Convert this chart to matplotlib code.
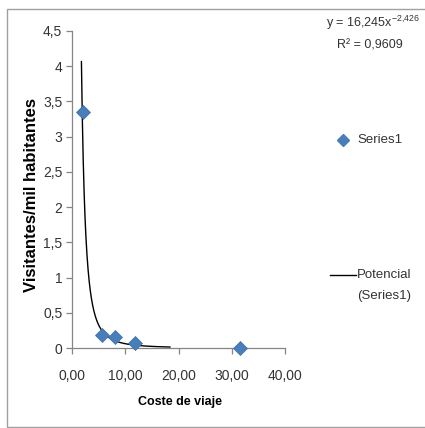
import matplotlib
matplotlib.use("Agg")
import matplotlib.pyplot as plt
import numpy as np
from matplotlib.lines import Line2D
from matplotlib.patches import Rectangle

# Data
coste = [2.0, 5.6, 8.1, 11.8, 31.5]
visitantes = [3.35, 0.18, 0.15, 0.07, 0.0]
fit_a = 16.245
fit_b = -2.426
fit_xmin = 1.77
fit_xmax = 18.4
x_ticks = [0, 10, 20, 30, 40]
x_tick_labels = ["0,00", "10,00", "20,00", "30,00", "40,00"]
y_ticks = [0, 0.5, 1, 1.5, 2, 2.5, 3, 3.5, 4, 4.5]
y_tick_labels = ["0", "0,5", "1", "1,5", "2", "2,5", "3", "3,5", "4", "4,5"]

plt.rcParams['font.family'] = ['Liberation Sans', 'DejaVu Sans']

W, H = 425, 428
fig = plt.figure(figsize=(W/100, H/100), dpi=100)
fig.patch.set_facecolor("white")

# chart border
fig.patches.append(Rectangle((7/W, 1 - 427/H), (W + 10)/W, (427 - 9)/H,
                             transform=fig.transFigure, fill=False,
                             edgecolor="#a0a0a0", linewidth=1.0, zorder=0))

ax = fig.add_axes([72/W, 1 - 348/H, (285 - 72)/W, (348 - 31)/H])
ax.set_facecolor("none")

xs = np.linspace(fit_xmin, fit_xmax, 400)
ax.plot(xs, fit_a * xs ** fit_b, color="black", linewidth=1.0, zorder=2, clip_on=False)
ax.plot(coste, visitantes, linestyle="none", marker="D", markersize=7,
        color="#4a7ebb", markeredgecolor="#3a6ea5", markeredgewidth=0.5,
        zorder=3, clip_on=False)

ax.set_xlim(0, 40)
ax.set_ylim(0, 4.5)
ax.set_xticks(x_ticks)
ax.set_xticklabels(x_tick_labels)
ax.set_yticks(y_ticks)
ax.set_yticklabels(y_tick_labels)
for s in ["top", "right"]:
    ax.spines[s].set_visible(False)
for s in ["left", "bottom"]:
    ax.spines[s].set_color("#868686")
    ax.spines[s].set_linewidth(0.9)
ax.tick_params(axis="both", direction="out", length=4, width=0.9, color="#868686",
               labelsize=10, labelcolor="#333333")
ax.tick_params(axis="x", pad=11)
ax.tick_params(axis="y", pad=3)

fig.text(180/W, 1 - 402/H, "Coste de viaje", fontsize=9, fontweight="bold",
         color="black", ha="center", va="center")
fig.text(32/W, 1 - 195/H, "Visitantes/mil habitantes", fontsize=12,
         fontweight="bold", color="black", ha="center", va="center", rotation=90)

# equation
fig.text(373/W, 1 - 23/H, r"y = 16,245x$^{\mathregular{-2{,}426}}$", fontsize=9,
         color="#333333", ha="center", va="center")
fig.text(370/W, 1 - 46/H, "R² = 0,9609", fontsize=9, color="#333333",
         ha="center", va="center")

# legend
fig.lines.append(Line2D([343/W], [1 - 140/H], marker="D", markersize=6,
                        color="#4a7ebb", linestyle="none", transform=fig.transFigure))
fig.text(357/W, 1 - 140/H, "Series1", fontsize=9.5, color="#333333",
         ha="left", va="center")
fig.lines.append(Line2D([330/W, 356/W], [1 - 275/H, 1 - 275/H], color="black",
                        linewidth=1.0, transform=fig.transFigure))
fig.text(357/W, 1 - 275/H, "Potencial", fontsize=9.5, color="#333333",
         ha="left", va="center")
fig.text(357/W, 1 - 296/H, "(Series1)", fontsize=9.5, color="#333333",
         ha="left", va="center")

fig.savefig("out.png", dpi=100, facecolor="white")
